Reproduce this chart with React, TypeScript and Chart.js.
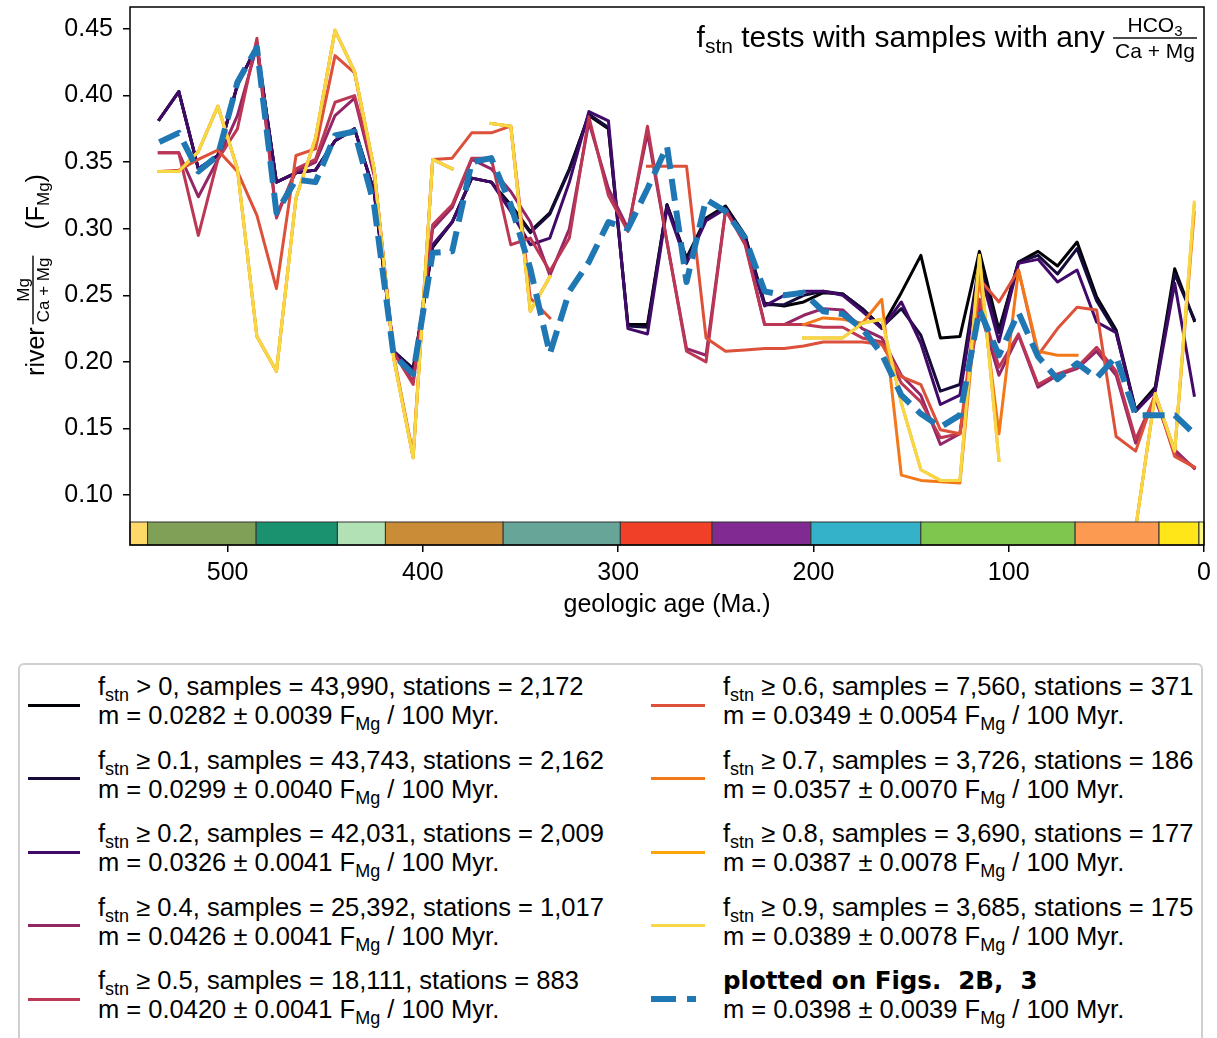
import React, { useEffect, useRef } from "react";
import { Chart, registerables } from "chart.js";
Chart.register(...registerables);

const FF = '"Liberation Sans", Arial, Helvetica, sans-serif';

// bin centres (Ma)
const ages = [535, 525, 515, 505, 495, 485, 475, 465, 455, 445, 435, 425, 415, 405, 395, 385, 375, 365, 355, 345, 335, 325, 315, 305, 295, 285, 275, 265, 255, 245, 235, 225, 215, 205, 195, 185, 175, 165, 155, 145, 135, 125, 115, 105, 95, 85, 75, 65, 55, 45, 35, 25, 15, 5];

const fGt0 = [0.382, 0.403, 0.345, 0.355, 0.408, 0.437, 0.335, 0.342, 0.344, 0.366, 0.375, 0.328, 0.208, 0.195, 0.286, 0.305, 0.338, 0.335,
  0.318, 0.298, 0.312, 0.345, 0.385, 0.375, 0.228, 0.228, 0.318, 0.278, 0.308, 0.317, 0.295, 0.244, 0.242, 0.245, 0.252, 0.251,
  0.240, 0.226, 0.252, 0.280, 0.218, 0.219, 0.283, 0.224, 0.275, 0.283, 0.272, 0.290, 0.249, 0.224, 0.164, 0.181, 0.270, 0.231];
const fGe01 = [0.382, 0.403, 0.345, 0.355, 0.408, 0.437, 0.335, 0.342, 0.344, 0.366, 0.375, 0.328, 0.208, 0.194, 0.287, 0.305, 0.338, 0.335,
  0.317, 0.297, 0.311, 0.344, 0.386, 0.376, 0.227, 0.226, 0.318, 0.277, 0.307, 0.316, 0.294, 0.243, 0.243, 0.250, 0.253, 0.251,
  0.240, 0.226, 0.240, 0.220, 0.178, 0.183, 0.275, 0.222, 0.275, 0.280, 0.266, 0.285, 0.246, 0.222, 0.163, 0.179, 0.266, 0.232];
const fGe02 = [0.382, 0.403, 0.345, 0.355, 0.408, 0.437, 0.335, 0.342, 0.344, 0.366, 0.375, 0.328, 0.208, 0.193, 0.288, 0.305, 0.338, 0.335,
  0.313, 0.288, 0.293, 0.335, 0.388, 0.381, 0.225, 0.221, 0.316, 0.274, 0.306, 0.315, 0.291, 0.242, 0.250, 0.253, 0.253, 0.250,
  0.238, 0.225, 0.245, 0.214, 0.168, 0.175, 0.270, 0.215, 0.274, 0.277, 0.260, 0.269, 0.230, 0.222, 0.163, 0.178, 0.259, 0.175];
const fGe04 = [0.357, 0.357, 0.324, 0.352, 0.385, 0.437, 0.310, 0.343, 0.350, 0.385, 0.398, 0.340, 0.207, 0.185, 0.300, 0.316, 0.352, 0.345,
  0.328, 0.305, 0.265, 0.300, 0.380, 0.330, 0.300, 0.372, 0.290, 0.210, 0.205, 0.314, 0.290, 0.228, 0.228, 0.235, 0.240, 0.239,
  0.225, 0.218, 0.190, 0.175, 0.138, 0.146, 0.240, 0.190, 0.220, 0.181, 0.190, 0.195, 0.208, 0.190, 0.139, 0.172, 0.134, 0.120];
const fGe05 = [0.357, 0.357, 0.295, 0.352, 0.375, 0.443, 0.308, 0.345, 0.352, 0.395, 0.400, 0.345, 0.207, 0.183, 0.303, 0.318, 0.353, 0.353,
  0.288, 0.293, 0.268, 0.293, 0.384, 0.325, 0.298, 0.377, 0.290, 0.208, 0.200, 0.314, 0.288, 0.228, 0.228, 0.228, 0.226, 0.226,
  0.218, 0.215, 0.184, 0.170, 0.143, 0.146, 0.247, 0.196, 0.221, 0.183, 0.191, 0.196, 0.211, 0.193, 0.142, 0.174, 0.131, 0.121];
const fGe06 = [0.343, 0.344, 0.352, 0.359, 0.343, 0.310, 0.255, 0.355, 0.360, 0.430, 0.417, 0.343, 0.205, 0.130, 0.352, 0.353, 0.372, 0.372,
  0.377, 0.248, 0.233, null, null, null, null, 0.347, 0.347, 0.347, 0.218, 0.208, 0.209, 0.210, 0.210, 0.212, 0.215, 0.215,
  0.215, 0.213, 0.189, 0.183, 0.149, 0.146, 0.262, 0.245, 0.269, 0.205, 0.225, 0.241, 0.239, 0.144, 0.133, 0.176, 0.129, 0.121];
const fGe07 = [0.343, 0.343, 0.358, 0.392, 0.345, 0.219, 0.193, 0.323, 0.368, 0.449, 0.418, 0.345, 0.203, 0.128, 0.352, 0.345, null, 0.379,
  0.377, 0.238, 0.264, null, null, null, null, null, null, null, null, null, null, null, null, 0.228, 0.233, 0.232,
  0.229, 0.247, 0.115, 0.111, 0.110, 0.109, 0.265, 0.146, 0.269, 0.208, 0.205, 0.205, null, null, 0.075, 0.176, 0.133, 0.312];
const fGe08 = [0.343, 0.343, 0.358, 0.392, 0.345, 0.219, 0.193, 0.323, 0.368, 0.449, 0.418, 0.345, 0.203, 0.128, 0.352, 0.345, null, 0.379,
  0.377, 0.238, 0.264, null, null, null, null, null, null, null, null, null, null, null, null, 0.218, 0.218, 0.218,
  0.229, 0.232, 0.169, 0.119, 0.111, 0.111, 0.280, 0.126, null, null, null, null, null, null, 0.075, 0.176, 0.133, 0.318];
const fGe09 = [0.343, 0.343, 0.358, 0.392, 0.345, 0.219, 0.193, 0.323, 0.368, 0.449, 0.418, 0.345, 0.203, 0.128, 0.352, 0.345, null, 0.379,
  0.377, 0.238, 0.264, null, null, null, null, null, null, null, null, null, null, null, null, 0.218, 0.218, 0.218,
  0.229, 0.232, 0.169, 0.119, 0.111, 0.111, 0.280, 0.126, null, null, null, null, null, null, 0.075, 0.176, 0.133, 0.320];
const plotted = [0.365, 0.372, 0.343, 0.355, 0.410, 0.436, 0.312, 0.337, 0.335, 0.370, 0.373, 0.318, 0.205, 0.191, 0.282, 0.283, 0.350, 0.353,
  0.318, 0.270, 0.206, 0.253, 0.275, 0.305, 0.300, 0.330, 0.362, 0.260, 0.322, 0.313, 0.293, 0.253, 0.250, 0.252, 0.238, 0.236,
  0.225, 0.206, 0.175, 0.161, 0.151, 0.160, 0.239, 0.205, 0.237, 0.204, 0.187, 0.199, 0.188, 0.204, 0.160, 0.160, 0.160, 0.146];

const seriesValues = [fGt0, fGe01, fGe02, fGe04, fGe05, fGe06, fGe07, fGe08, fGe09, plotted];
const seriesColors = ["#000004", "#160b39", "#420a68", "#932667", "#bc3754", "#dd513a", "#f37819", "#fca50a", "#f6d746", "#1f77b4"];

// legend text
const thresholds = ["> 0", "≥ 0.1", "≥ 0.2", "≥ 0.4", "≥ 0.5", "≥ 0.6", "≥ 0.7", "≥ 0.8", "≥ 0.9"];
const samples = ["43,990", "43,743", "42,031", "25,392", "18,111", "7,560", "3,726", "3,690", "3,685"];
const stations = ["2,172", "2,162", "2,009", "1,017", "883", "371", "186", "177", "175"];
const slopes = ["0.0282", "0.0299", "0.0326", "0.0426", "0.0420", "0.0349", "0.0357", "0.0387", "0.0389", "0.0398"];
const slopeErrs = ["0.0039", "0.0040", "0.0041", "0.0041", "0.0041", "0.0054", "0.0070", "0.0078", "0.0078", "0.0039"];

// geologic time scale
const periodBounds = [550, 541, 485.4, 443.8, 419.2, 358.9, 298.9, 251.9, 201.3, 145, 66, 23.03, 2.58, 0];
const periodColors = ["#FED96A", "#7FA056", "#1A9270", "#B3E1B6", "#CB8C37", "#67A599", "#F04028", "#812B92", "#34B2C9", "#7FC64E", "#FD9A52", "#FFE619", "#F9F97F"];

const xTicks = [500, 400, 300, 200, 100, 0];
const yTicks = [0.1, 0.15, 0.2, 0.25, 0.3, 0.35, 0.4, 0.45];

type Run = { t: string; font: string; dy?: number };

function runWidth(ctx: CanvasRenderingContext2D, runs: Run[]) {
  let w = 0;
  for (const r of runs) { ctx.font = r.font; w += ctx.measureText(r.t).width; }
  return w;
}
function drawRuns(ctx: CanvasRenderingContext2D, runs: Run[], x: number, y: number) {
  for (const r of runs) { ctx.font = r.font; ctx.fillText(r.t, x, y + (r.dy || 0)); x += ctx.measureText(r.t).width; }
  return x;
}
function drawFrac(ctx: CanvasRenderingContext2D, x: number, axisY: number, num: Run[], den: Run[], numGap: number, denGap: number) {
  const wn = runWidth(ctx, num), wd = runWidth(ctx, den);
  const w = Math.max(wn, wd) + 4;
  ctx.fillRect(x, axisY - 0.7, w, 1.4);
  drawRuns(ctx, num, x + (w - wn) / 2, axisY - numGap);
  drawRuns(ctx, den, x + (w - wd) / 2, axisY + denGap);
  return w;
}

const decorPlugin = {
  id: "decor",
  afterDatasetsDraw(chart: any) {
    const { ctx, chartArea: a } = chart;
    const xs = chart.scales.x;
    ctx.save();
    // geologic colour bar
    const h = 23;
    for (let i = 0; i < periodColors.length; i++) {
      const x1 = xs.getPixelForValue(periodBounds[i]);
      const x2 = xs.getPixelForValue(periodBounds[i + 1]);
      ctx.fillStyle = periodColors[i];
      ctx.fillRect(x1, a.bottom - h, x2 - x1, h);
      ctx.strokeStyle = "#333";
      ctx.lineWidth = 1;
      ctx.strokeRect(x1, a.bottom - h, x2 - x1, h);
    }
    // frame
    ctx.strokeStyle = "#000";
    ctx.lineWidth = 1.5;
    ctx.strokeRect(a.left, a.top, a.right - a.left, a.bottom - a.top);

    ctx.fillStyle = "#000";
    ctx.textAlign = "left";
    ctx.textBaseline = "alphabetic";
    // title (top right, inside)
    const big = "30px " + FF, sub = "21px " + FF, fr = "21px " + FF, frs = "15px " + FF;
    const titleRuns: Run[] = [
      { t: "f", font: big },
      { t: "stn", font: sub, dy: 6 },
      { t: " tests with samples with any ", font: big },
    ];
    const num: Run[] = [{ t: "HCO", font: fr }, { t: "3", font: frs, dy: 4 }];
    const den: Run[] = [{ t: "Ca + Mg", font: fr }];
    const fracW = Math.max(runWidth(ctx, num), runWidth(ctx, den)) + 4;
    const tw = runWidth(ctx, titleRuns);
    const right = 1197, base = 47;
    const tx = right - fracW - tw;
    const ex = drawRuns(ctx, titleRuns, tx, base);
    drawFrac(ctx, ex, base - 9, num, den, 6, 20);

    // x-axis title
    ctx.font = "25px " + FF;
    ctx.textAlign = "center";
    ctx.fillText("geologic age (Ma.)", (a.left + a.right) / 2, 612);

    // y-axis title (rotated)
    ctx.textAlign = "left";
    const yl = "25px " + FF, ys = "17px " + FF;
    const r1: Run[] = [{ t: "river", font: yl }];
    const ynum: Run[] = [{ t: "Mg", font: ys }];
    const yden: Run[] = [{ t: "Ca + Mg", font: ys }];
    const r2: Run[] = [{ t: "(F", font: yl }, { t: "Mg", font: ys, dy: 5 }, { t: ")", font: yl }];
    const yFracW = Math.max(runWidth(ctx, ynum), runWidth(ctx, yden)) + 4;
    const gap1 = 3, gap2 = 26;
    const total = runWidth(ctx, r1) + gap1 + yFracW + gap2 + runWidth(ctx, r2);
    ctx.translate(44, 275);
    ctx.rotate(-Math.PI / 2);
    let u = -total / 2;
    u = drawRuns(ctx, r1, u, 0) + gap1;
    u += drawFrac(ctx, u, -11, ynum, yden, 4, 16) + gap2;
    drawRuns(ctx, r2, u, 0);
    ctx.restore();
  },
};

function Sub({ children }: { children: React.ReactNode }) {
  return <span style={{ fontSize: 18, position: "relative", top: 6 }}>{children}</span>;
}

function LegendEntry({ i }: { i: number }) {
  const col = i < 5 ? 0 : 1;
  const row = i % 5;
  const textX = col === 0 ? 98 : 723;
  const swX = col === 0 ? 28 : 651;
  const swW = col === 0 ? 52 : 54;
  const top1 = 672 + 73.5 * row;
  const top2 = 701 + 73.5 * row;
  const swY = 705 + 73.5 * row;
  const lineStyle: React.CSSProperties = { position: "absolute", left: textX, height: 29, lineHeight: "29px", fontSize: 25.5, fontFamily: FF, whiteSpace: "nowrap", color: "#000" };
  return (
    <>
      {i < 9 ? (
        <div style={{ position: "absolute", left: swX, top: swY - 1.5, width: swW, height: 3, background: seriesColors[i] }} />
      ) : (
        <>
          <div style={{ position: "absolute", left: swX, top: swY - 3, width: 25, height: 6, background: seriesColors[i] }} />
          <div style={{ position: "absolute", left: swX + 36, top: swY - 3, width: 9, height: 6, background: seriesColors[i] }} />
        </>
      )}
      <div style={{ ...lineStyle, top: top1 }}>
        {i < 9 ? (
          <>f<Sub>stn</Sub> {thresholds[i]}, samples = {samples[i]}, stations = {stations[i]}</>
        ) : (
          <span style={{ fontFamily: '"DejaVu Sans", sans-serif', fontWeight: "bold", fontSize: 24.5 }}>plotted on Figs.&nbsp; 2B,&nbsp; 3</span>
        )}
      </div>
      <div style={{ ...lineStyle, top: top2 }}>
        m = {slopes[i]} ± {slopeErrs[i]} F<Sub>Mg</Sub> / 100 Myr.
      </div>
    </>
  );
}

export default function App() {
  const ref = useRef<HTMLCanvasElement | null>(null);
  useEffect(() => {
    if (!ref.current) return;
    const order = [0, 1, 2, 3, 4, 5, 6, 7, 8, 9];
    const datasets = order.map((si) => ({
      label: "s" + si,
      data: ages.map((a, k) => ({ x: a, y: seriesValues[si][k] })),
      borderColor: seriesColors[si],
      backgroundColor: seriesColors[si],
      borderWidth: si === 9 ? 6 : 3,
      borderDash: si === 9 ? [22, 10] : [],
      borderCapStyle: si === 9 ? "butt" : "square",
      borderJoinStyle: "round",
      pointRadius: 0,
      pointHoverRadius: 0,
      tension: 0,
      spanGaps: false,
      fill: false,
      order: 9 - si,
    }));
    const chart = new Chart(ref.current, {
      type: "line",
      data: { datasets: datasets as any },
      options: {
        responsive: false,
        animation: false,
        events: [],
        layout: { padding: { left: 0, top: 7, right: 13, bottom: 0 } },
        plugins: { legend: { display: false }, tooltip: { enabled: false }, title: { display: false } },
        scales: {
          x: {
            type: "linear",
            min: 0,
            max: 550,
            reverse: true,
            afterBuildTicks: (s: any) => { s.ticks = xTicks.map((v) => ({ value: v })); },
            afterFit: (s: any) => { s.height = 95; s.paddingLeft = 0; s.paddingRight = 0; },
            grid: { display: true, drawOnChartArea: false, drawTicks: true, tickLength: 7, color: "#000", lineWidth: 1.5 },
            border: { display: false },
            ticks: { color: "#000", font: { size: 25, family: FF }, padding: 6, autoSkip: false, maxRotation: 0, callback: (v: any) => String(v) },
          },
          y: {
            type: "linear",
            min: 0.0625,
            max: 0.4665,
            afterBuildTicks: (s: any) => { s.ticks = yTicks.map((v) => ({ value: v })); },
            afterFit: (s: any) => { s.width = 130; s.paddingTop = 0; s.paddingBottom = 0; },
            grid: { display: true, drawOnChartArea: false, drawTicks: true, tickLength: 7, color: "#000", lineWidth: 1.5 },
            border: { display: false },
            ticks: { color: "#000", font: { size: 25, family: FF }, padding: 10, autoSkip: false, callback: (v: any) => Number(v).toFixed(2) },
          },
        },
      } as any,
      plugins: [decorPlugin],
    });
    return () => chart.destroy();
  }, []);

  return (
    <div style={{ position: "absolute", left: 0, top: 0, width: 1217, height: 1038, overflow: "hidden", background: "#fff", fontFamily: FF }}>
      <canvas ref={ref} width={1217} height={640} style={{ position: "absolute", left: 0, top: 0, width: 1217, height: 640 }} />
      <div style={{ position: "absolute", left: 18, top: 663, width: 1185, height: 420, boxSizing: "border-box", border: "2px solid #d0d0d0", borderRadius: 6 }} />
      {[0, 1, 2, 3, 4, 5, 6, 7, 8, 9].map((i) => <LegendEntry key={i} i={i} />)}
    </div>
  );
}
